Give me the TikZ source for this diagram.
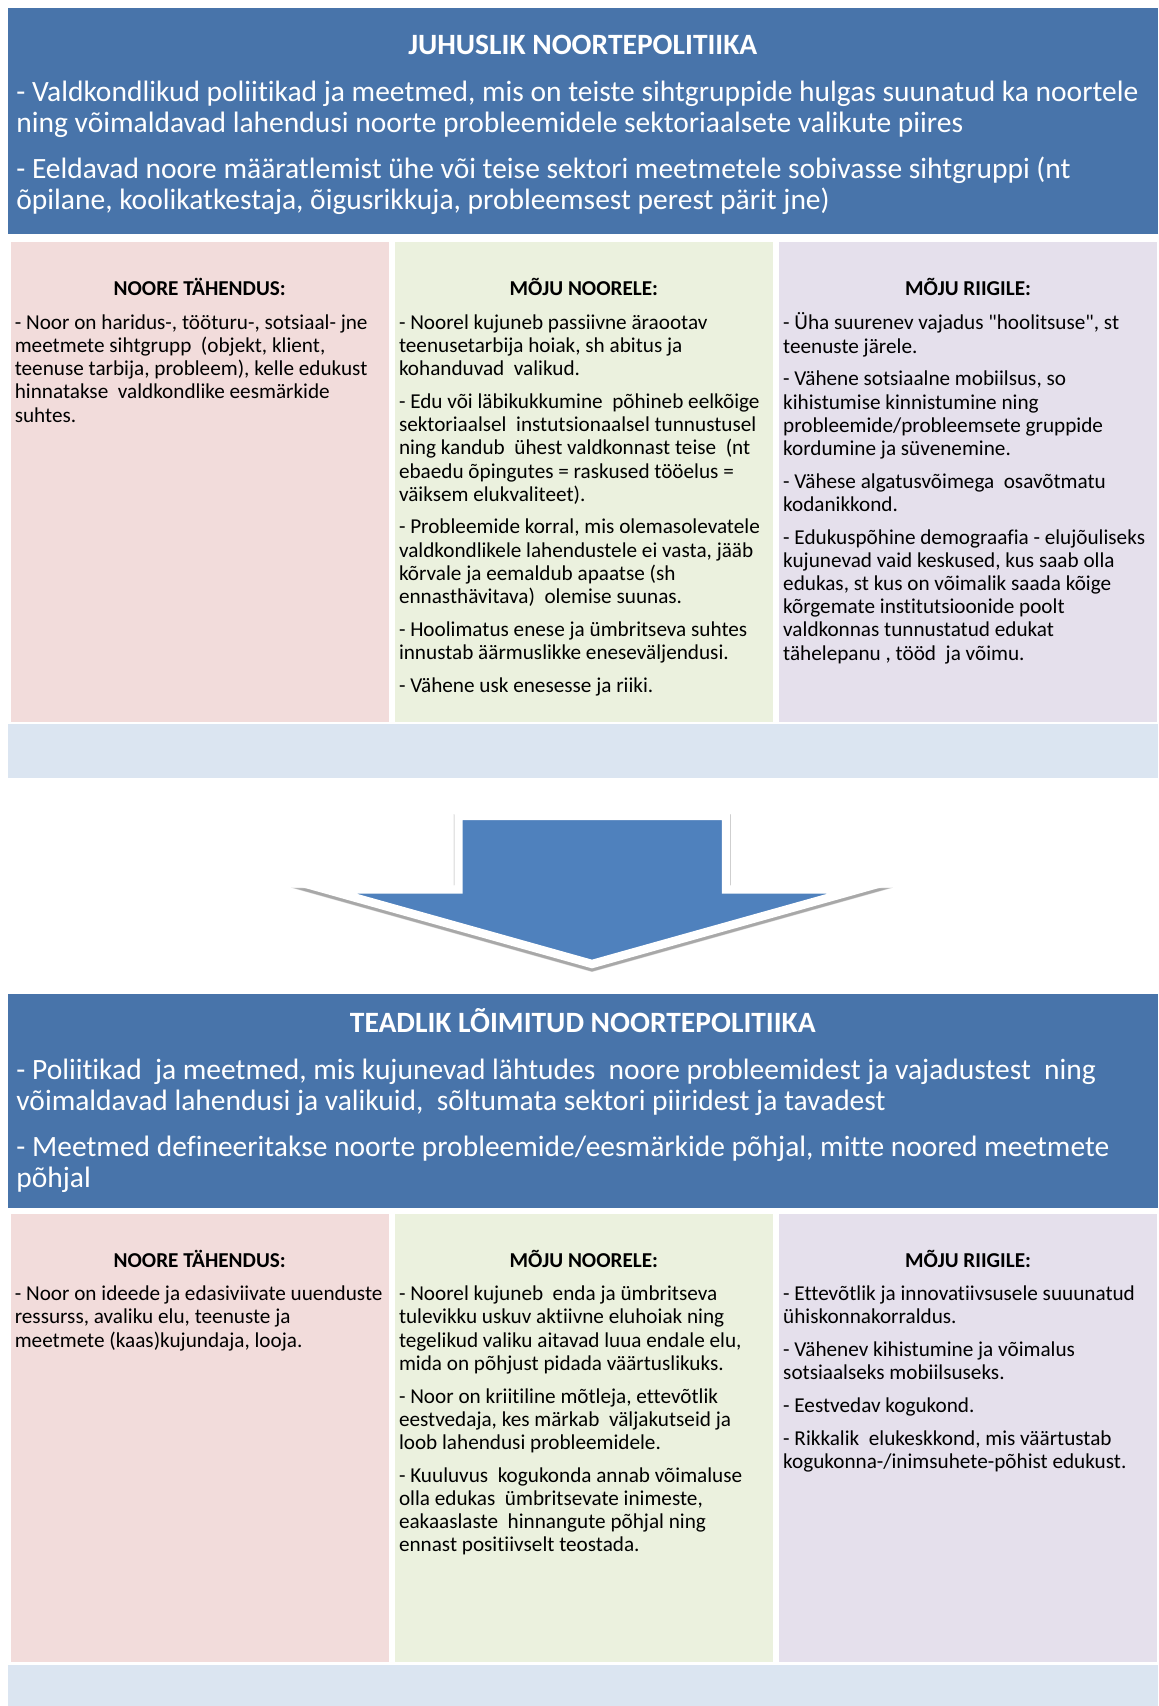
\documentclass[tikz,border=0pt]{standalone}
\usepackage{fontspec}
\setmainfont{Carlito}[Ligatures=CommonOff]
\newfontfamily\qfont{Carlito}[Ligatures=CommonOff]
\usetikzlibrary{positioning}
\definecolor{hdrblue}{HTML}{4874AA}
\definecolor{arrblue}{HTML}{4F81BD}
\definecolor{colpink}{HTML}{F2DCDB}
\definecolor{colgreen}{HTML}{EBF1DE}
\definecolor{collilac}{HTML}{E5E0EC}
\definecolor{stripblue}{HTML}{DBE5F1}
\tikzset{
  box/.style={anchor=north west, inner sep=0pt, outer sep=0pt, draw=none},
  hdrtitle/.style={text=white, font=\fontsize{14.75}{15.8}\selectfont\bfseries, anchor=base, inner sep=0pt},
  hdrtext/.style={text=white, font=\fontsize{14.75}{15.8}\selectfont, align=left, anchor=north west, inner sep=0pt},
  coltitle/.style={font=\fontsize{10.6}{11.62}\selectfont\bfseries, anchor=base, inner sep=0pt},
  coltext/.style={font=\fontsize{10.6}{11.62}\selectfont, align=left, anchor=north west, inner sep=0pt},
}

\begin{document}
\begin{tikzpicture}[x=0.5pt,y=-0.5pt]
\newcommand\DownArrow{(458.5,816) -- (726,816) -- (726,889.5) -- (858,889.5) -- (592,964) -- (326,889.5) -- (458.5,889.5) -- cycle}
\useasboundingbox (0,0) rectangle (1159,1706);

% juhuslik noortepolitiika
\node[box, fill=hdrblue, minimum width=575.2pt, minimum height=113.3pt] (juhus) at (7.6,7.6) {};
\node[hdrtitle] (juhustitle) at (582.8,54.7) {JUHUSLIK NOORTEPOLITIIKA};
\node[hdrtext] (juhustext) at (16,78.5) {\strut- Valdkondlikud poliitikad ja meetmed, mis on teiste sihtgruppide hulgas suunatud ka noortele\\
ning võimaldavad lahendusi noorte probleemidele sektoriaalsete valikute piires\\[7pt]
- Eeldavad noore määratlemist ühe või teise sektori meetmetele sobivasse sihtgruppi (nt\\
õpilane, koolikatkestaja, õigusrikkuja, probleemsest perest pärit jne)};

\node[box, fill=colpink, minimum width=188.8pt, minimum height=240pt] (jpink) at (10.9,241.6) {};
\node[box, fill=colgreen, minimum width=188.8pt, minimum height=240pt] (jgreen) at (395.1,241.6) {};
\node[box, fill=collilac, minimum width=188.8pt, minimum height=240pt] (jlilac) at (779.3,241.6) {};
\node[box, fill=stripblue, minimum width=575.2pt, minimum height=27.15pt] (jstrip) at (7.6,723.7) {};

\node[coltitle] (jpinktitle) at (199.7,295.2) {NOORE TÄHENDUS:};
\node[coltitle] (jgreentitle) at (583.9,295.2) {MÕJU NOORELE:};
\node[coltitle] (jlilactitle) at (968.1,295.2) {MÕJU RIIGILE:};

\node[coltext] (jpinktext) at (14.4,312.5) {\strut- Noor on haridus-, tööturu-, sotsiaal- jne\\
meetmete sihtgrupp \ (objekt, klient,\\
teenuse tarbija, probleem), kelle edukust\\
hinnatakse \ valdkondlike eesmärkide\\
suhtes.};
\node[coltext] (jgreentext) at (398.6,312.5) {\strut- Noorel kujuneb passiivne äraootav\\
teenusetarbija hoiak, sh abitus ja\\
kohanduvad \ valikud.\\[4.7pt]
- Edu või läbikukkumine \ põhineb eelkõige\\
sektoriaalsel \ instutsionaalsel tunnustusel\\
ning kandub \ ühest valdkonnast teise \ (nt\\
ebaedu õpingutes = raskused tööelus =\\
väiksem elukvaliteet).\\[4.7pt]
- Probleemide korral, mis olemasolevatele\\
valdkondlikele lahendustele ei vasta, jääb\\
kõrvale ja eemaldub apaatse (sh\\
ennasthävitava) \ olemise suunas.\\[4.7pt]
- Hoolimatus enese ja ümbritseva suhtes\\
innustab äärmuslikke eneseväljendusi.\\[4.7pt]
- Vähene usk enesesse ja riiki.};
\node[coltext] (jlilactext) at (782.8,312.5) {\strut- Üha suurenev vajadus {\qfont"}hoolitsuse{\qfont"}, st\\
teenuste järele.\\[4.7pt]
- Vähene sotsiaalne mobiilsus, so\\
kihistumise kinnistumine ning\\
probleemide/probleemsete gruppide\\
kordumine ja süvenemine.\\[4.7pt]
- Vähese algatusvõimega \ osavõtmatu\\
kodanikkond.\\[4.7pt]
- Edukuspõhine demograafia - elujõuliseks\\
kujunevad vaid keskused, kus saab olla\\
edukas, st kus on võimalik saada kõige\\
kõrgemate institutsioonide poolt\\
valdkonnas tunnustatud edukat\\
tähelepanu , tööd \ ja võimu.};

% nool
\foreach \w in {4.2,4.5,4.8}{
  \draw[black, opacity=0.13, line width=\w pt, line join=miter, miter limit=10, yshift=-1.5pt] \DownArrow;
}
\draw[fill=arrblue, draw=white, line width=4.2pt, line join=miter, miter limit=10] \DownArrow;

% teadlik loimitud noortepolitiika
\node[box, fill=hdrblue, minimum width=575.2pt, minimum height=107.2pt] (teadl) at (7.6,993.6) {};
\node[hdrtitle] (teadltitle) at (582.8,1032) {TEADLIK LÕIMITUD NOORTEPOLITIIKA};
\node[hdrtext] (teadltext) at (16,1056.6) {\strut- Poliitikad \ ja meetmed, mis kujunevad lähtudes \ noore probleemidest ja vajadustest \ ning\\
võimaldavad lahendusi ja valikuid, \ sõltumata sektori piiridest ja tavadest\\[7pt]
- Meetmed defineeritakse noorte probleemide/eesmärkide põhjal, mitte noored meetmete\\
põhjal};

\node[box, fill=colpink, minimum width=188.8pt, minimum height=224.25pt] (tpink) at (10.9,1213.5) {};
\node[box, fill=colgreen, minimum width=188.8pt, minimum height=224.25pt] (tgreen) at (395.1,1213.5) {};
\node[box, fill=collilac, minimum width=188.8pt, minimum height=224.25pt] (tlilac) at (779.3,1213.5) {};
\node[box, fill=stripblue, minimum width=575.2pt, minimum height=20.5pt] (tstrip) at (7.6,1665) {};

\node[coltitle] (tpinktitle) at (199.7,1267) {NOORE TÄHENDUS:};
\node[coltitle] (tgreentitle) at (583.9,1267) {MÕJU NOORELE:};
\node[coltitle] (tlilactitle) at (968.1,1267) {MÕJU RIIGILE:};

\node[coltext] (tpinktext) at (14.4,1284) {\strut- Noor on ideede ja edasiviivate uuenduste\\
ressurss, avaliku elu, teenuste ja\\
meetmete (kaas)kujundaja, looja.};
\node[coltext] (tgreentext) at (398.6,1284) {\strut- Noorel kujuneb \ enda ja ümbritseva\\
tulevikku uskuv aktiivne eluhoiak ning\\
tegelikud valiku aitavad luua endale elu,\\
mida on põhjust pidada väärtuslikuks.\\[4.7pt]
- Noor on kriitiline mõtleja, ettevõtlik\\
eestvedaja, kes märkab \ väljakutseid ja\\
loob lahendusi probleemidele.\\[4.7pt]
- Kuuluvus \ kogukonda annab võimaluse\\
olla edukas \ ümbritsevate inimeste,\\
eakaaslaste \ hinnangute põhjal ning\\
ennast positiivselt teostada.};
\node[coltext] (tlilactext) at (782.8,1284) {\strut- Ettevõtlik ja innovatiivsusele suuunatud\\
ühiskonnakorraldus.\\[4.7pt]
- Vähenev kihistumine ja võimalus\\
sotsiaalseks mobiilsuseks.\\[4.7pt]
- Eestvedav kogukond.\\[4.7pt]
- Rikkalik \ elukeskkond, mis väärtustab\\
kogukonna-/inimsuhete-põhist edukust.};
\end{tikzpicture}
\end{document}
